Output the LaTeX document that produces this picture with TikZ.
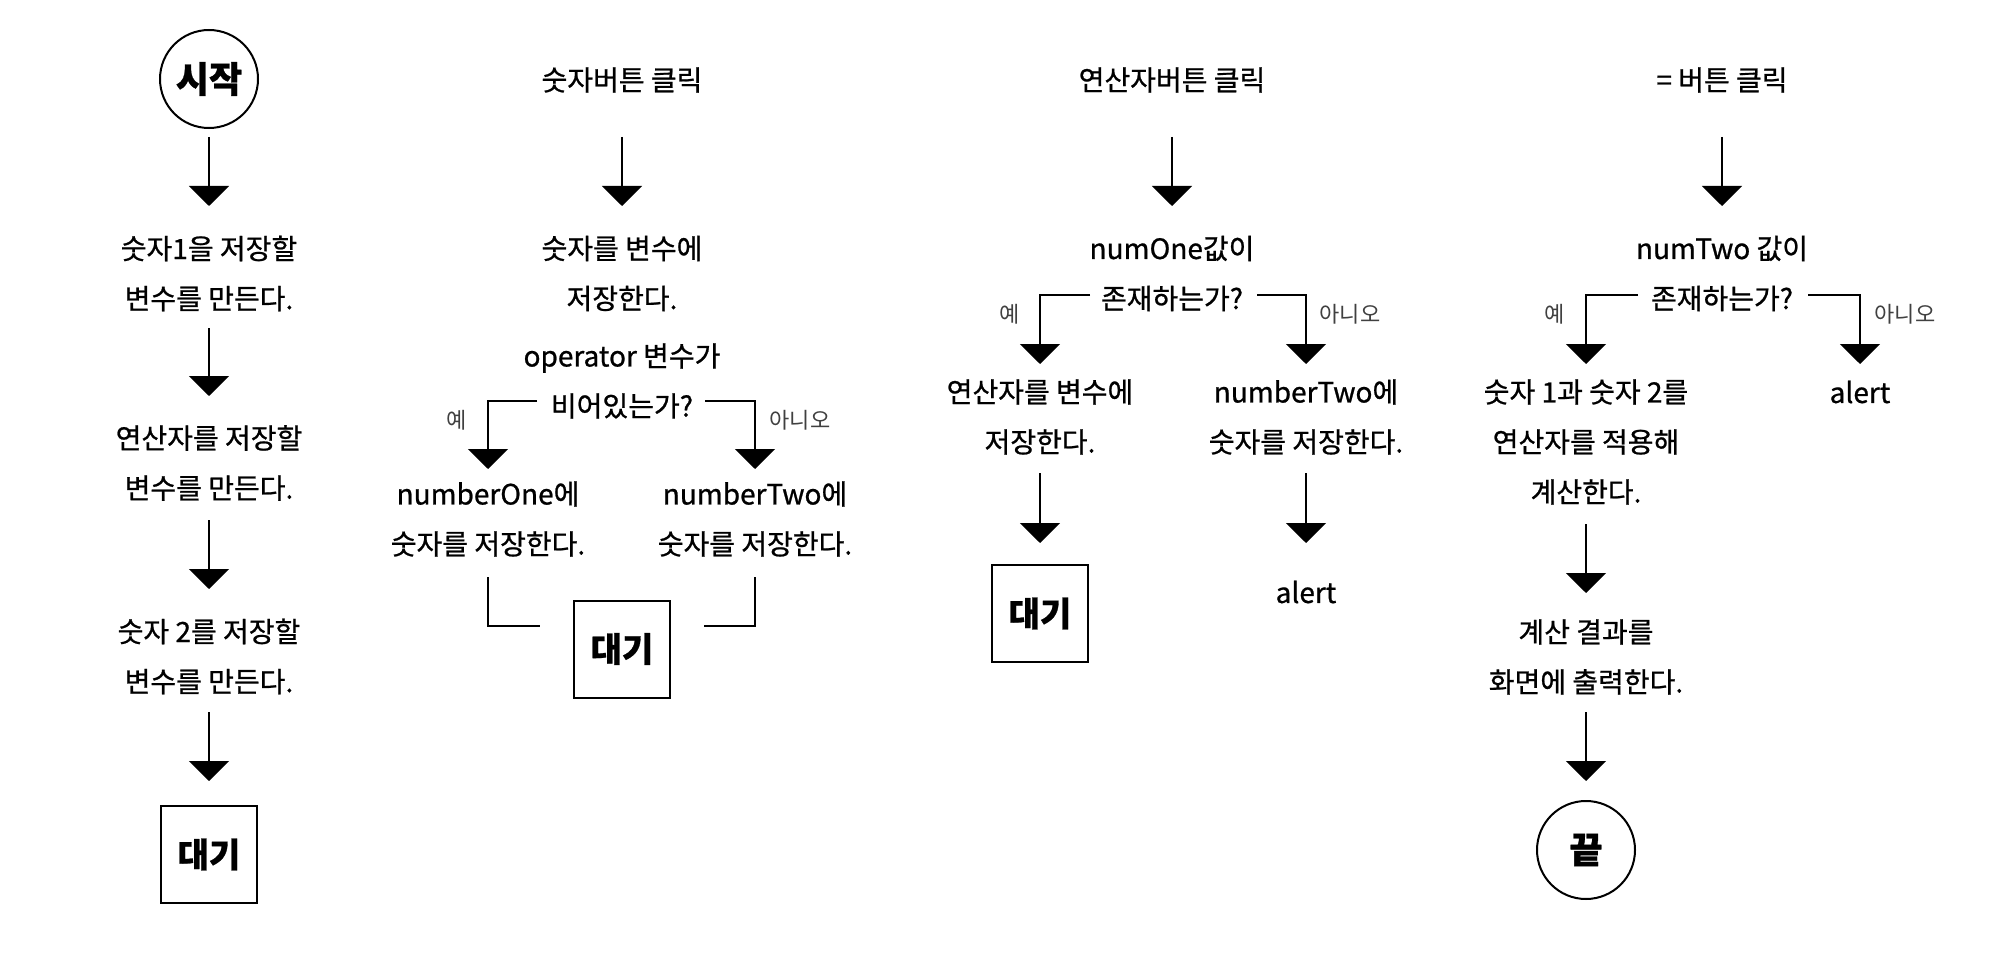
\documentclass[tikz,border=0pt]{standalone}
\usepackage{fontspec}
\setmainfont{Noto Sans CJK KR}[FakeBold=0.8]
\newfontfamily\lblfont{Noto Sans CJK KR}
\usetikzlibrary{arrows.meta,calc}
\begin{document}
\begin{tikzpicture}[x=0.5pt,y=-0.5pt,
  txt/.style={inner sep=0pt, align=center, font=\fontsize{14pt}{25pt}\selectfont},
  lbl/.style={inner sep=0pt, text=black!75, font=\lblfont\fontsize{11pt}{12pt}\selectfont},
  term/.style={draw, circle, line width=1pt, minimum size=49pt, inner sep=0pt, font=\bfseries\fontsize{18pt}{20pt}\selectfont},
  waitbox/.style={draw, rectangle, line width=1pt, minimum width=48pt, minimum height=48.5pt, inner sep=0pt, font=\bfseries\fontsize{17pt}{20pt}\selectfont},
  arr/.style={line width=1pt, -{Triangle[width=20pt,length=10pt]}},
  ln/.style={line width=1pt}]
\useasboundingbox (0,0) rectangle (2015,963);
\fill[white] (0,0) rectangle (2015,963);
% column 1
\node[term] (s) at (209,79) {시작};
\node[txt] (a1) at (209,273.5) {숫자1을 저장할\\변수를 만든다.};
\node[txt] (a2) at (209,463) {연산자를 저장할\\변수를 만든다.};
\node[txt] (a3) at (209,656.5) {숫자 2를 저장할\\변수를 만든다.};
\node[waitbox] (w1) at (209,854.5) {대기};
\draw[arr, shorten <=29pt, shorten >=33.75pt] (s.center) -- (a1.center);
\draw[arr, shorten <=27.25pt, shorten >=33.5pt] (a1.center) -- (a2.center);
\draw[arr, shorten <=28.5pt, shorten >=33.75pt] (a2.center) -- (a3.center);
\draw[arr, shorten <=27.75pt, shorten >=36.75pt] (a3.center) -- (w1.center);
% column 2
\node[txt] (t2) at (622,80) {숫자버튼 클릭};
\node[txt] (b1) at (622,273.5) {숫자를 변수에\\저장한다.};
\node[txt] (b2) at (622,381) {operator 변수가\\비어있는가?};
\node[txt] (b3) at (488,519) {numberOne에\\숫자를 저장한다.};
\node[txt] (b4) at (755,519) {numberTwo에\\숫자를 저장한다.};
\node[waitbox] (w2) at (622,649) {대기};
\node[lbl] (y2) at (457,420) {예};
\node[lbl] (n2) at (800,420) {아니오};
\draw[arr, shorten <=28.5pt, shorten >=33.75pt] (t2.center) -- (b1.center);
\draw[arr, shorten >=25pt] ([xshift=-42.5pt,yshift=-10pt]b2.center) -| (b3.center);
\draw[arr, shorten >=25pt] ([xshift=41.5pt,yshift=-10pt]b2.center) -| (b4.center);
\draw[ln, shorten <=29pt] (b3.center) |- ([xshift=-16.5pt,yshift=11.5pt]w2.west);
\draw[ln, shorten <=29pt] (b4.center) |- ([xshift=16.5pt,yshift=11.5pt]w2.east);
% column 3
\node[txt] (t3) at (1172,80) {연산자버튼 클릭};
\node[txt] (c1) at (1172,273.5) {numOne값이\\존재하는가?};
\node[txt] (c2) at (1040,417) {연산자를 변수에\\저장한다.};
\node[txt] (c3) at (1306,417) {numberTwo에\\숫자를 저장한다.};
\node[waitbox] (w3) at (1040,613.5) {대기};
\node[txt] (al1) at (1306,592) {alert};
\node[lbl] (y3) at (1010,314) {예};
\node[lbl] (n3) at (1350,314) {아니오};
\draw[arr, shorten <=28.5pt, shorten >=33.75pt] (t3.center) -- (c1.center);
\draw[arr, shorten >=26.5pt] ([xshift=-41pt,yshift=-10.75pt]c1.center) -| (c2.center);
\draw[arr, shorten >=26.5pt] ([xshift=42.5pt,yshift=-10.75pt]c1.center) -| (c3.center);
\draw[arr, shorten <=28pt, shorten >=35.25pt] (c2.center) -- (w3.center);
\draw[arr, shorten <=28pt, shorten >=24.5pt] (c3.center) -- (al1.center);
% column 4
\node[txt] (t4) at (1722,80) {= 버튼 클릭};
\node[txt] (d1) at (1722,273.5) {numTwo 값이\\존재하는가?};
\node[txt] (d2) at (1586,442) {숫자 1과 숫자 2를\\연산자를 적용해\\계산한다.};
\node[txt] (al2) at (1860,392) {alert};
\node[txt] (d3) at (1586,657) {계산 결과를\\화면에 출력한다.};
\node[term] (e) at (1586,850) {끝};
\node[lbl] (y4) at (1555,314) {예};
\node[lbl] (n4) at (1905,314) {아니오};
\draw[arr, shorten <=28.5pt, shorten >=33.75pt] (t4.center) -- (d1.center);
\draw[arr, shorten >=39pt] ([xshift=-42pt,yshift=-10.75pt]d1.center) -| (d2.center);
\draw[arr, shorten >=14pt] ([xshift=43pt,yshift=-10.75pt]d1.center) -| (al2.center);
\draw[arr, shorten <=41pt, shorten >=32pt] (d2.center) -- (d3.center);
\draw[arr, shorten <=27.5pt, shorten >=34.5pt] (d3.center) -- (e.center);
\end{tikzpicture}
\end{document}
